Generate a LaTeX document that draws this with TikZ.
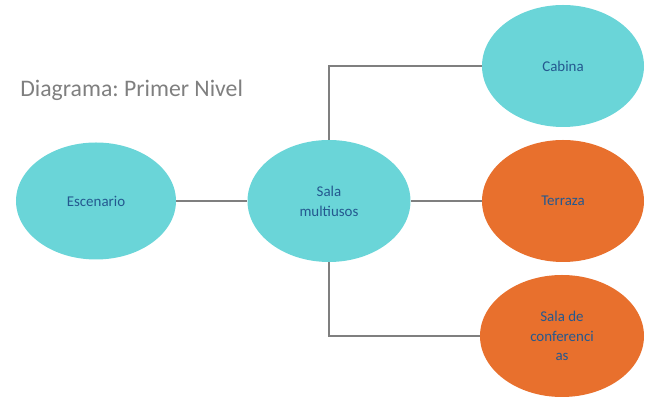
\documentclass[tikz,border=0pt]{standalone}
\usepackage{fontspec}
\setmainfont{Carlito}
\usepackage{tikz}
\usetikzlibrary{shapes.geometric, positioning}

\definecolor{roomcyan}{HTML}{6AD5D8}
\definecolor{roomorange}{HTML}{E8702D}
\definecolor{labelblue}{HTML}{24588F}
\definecolor{linegray}{HTML}{7F7F7F}

\frenchspacing

\begin{document}
\begin{tikzpicture}[
    room/.style={ellipse, draw=none, inner sep=0pt, minimum width=3.24cm, minimum height=2.44cm,
        text=labelblue, align=center, font=\fontsize{8.5}{11.3}\selectfont},
    link/.style={draw=linegray, line width=1.2pt}
]
    \useasboundingbox (0,0) rectangle (12.92,7.94);

    % Title
    \node[anchor=base west, inner sep=0pt, text=linegray, font=\fontsize{13.5}{16}\selectfont] (title) at (0.4,6.0) {Diagrama: Primer Nivel};

    % Rooms
    \node[room, fill=roomcyan, minimum width=3.2cm, minimum height=2.34cm] (escenario) at (1.92,3.92) {Escenario};
    \node[room, fill=roomcyan, minimum width=3.26cm] (multiusos) at (6.58,3.92) {Sala\\multiusos};
    \node[room, fill=roomcyan] (cabina) at (11.26,6.62) {Cabina};
    \node[room, fill=roomorange] (terraza) at (11.26,3.92) {Terraza};
    \node[room, fill=roomorange, minimum width=3.28cm] (conferencias) at (11.24,1.22) {Sala de\\conferenci\\as};

    % Connectors
    \draw[link] (escenario.east) -- (multiusos.west);
    \draw[link] (multiusos.north) |- (cabina.west);
    \draw[link] (multiusos.east) -- (terraza.west);
    \draw[link] (multiusos.south) |- (conferencias.west);

\end{tikzpicture}
\end{document}
